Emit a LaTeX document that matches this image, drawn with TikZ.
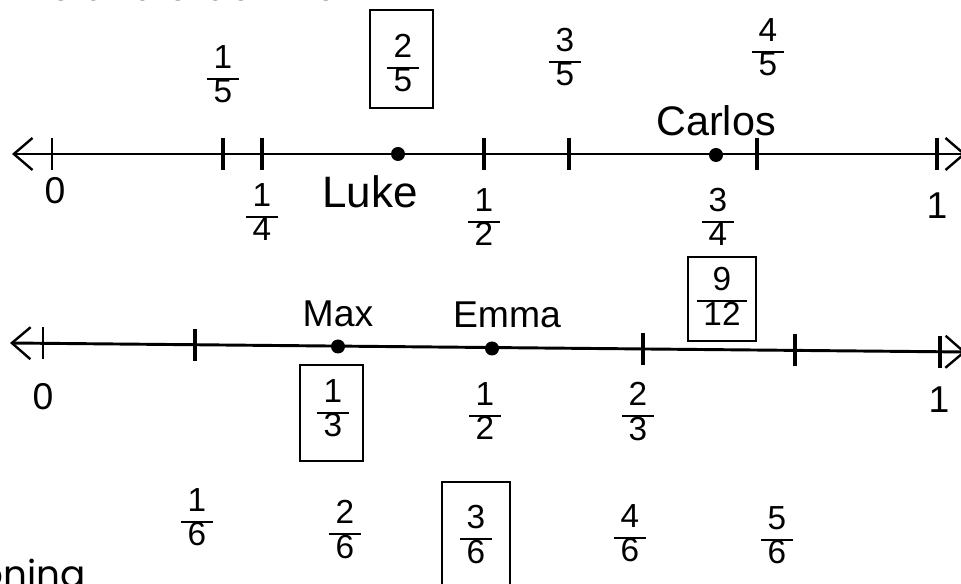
\documentclass[tikz,border=0pt]{standalone}
\usepackage{fontspec}
\setmainfont{Liberation Sans}
\newfontfamily\printfont{Poppins}
\usetikzlibrary{arrows.meta}
\newcommand\hfr[2]{{\setlength\arrayrulewidth{1.1pt}\renewcommand\arraystretch{0.85}\begin{tabular}{@{\hspace{5pt}}c@{\hspace{5pt}}}#1\\\hline #2\end{tabular}}}
\begin{document}
\begin{tikzpicture}[x=0.75pt,y=-0.75pt,
  barb/.tip={Straight Barb[length=14pt,width=24pt,line width=1.8pt]},
  axis/.style={line width=2.2pt, barb-barb},
  dotmark/.style={circle, fill=black, inner sep=0pt, minimum size=10.5pt},
  frac/.style={font=\fontsize{25}{28}\selectfont, inner sep=0pt},
  lab/.style={font=\fontsize{28}{32}\selectfont, inner sep=0pt},
  fbox/.style={draw, line width=1.6pt, inner sep=0pt},
  cut/.style={font=\printfont\fontsize{28}{32}\selectfont, inner sep=0pt}]
\useasboundingbox (0,0) rectangle (961,584);
\clip (0,0) rectangle (961,584);

% cut printed text
\node[cut, anchor=base west] (head) at (0,1) {Line and order the};
\node[cut, anchor=base east] (foot) at (86,588) {Reasoning};

% ---------- first number line ----------
\coordinate (A1) at (12,154);
\coordinate (B1) at (966,154);
\draw[axis] (A1) -- (B1);
\foreach \x/\n/\w in {52/t0/1.6pt,223/t15/3.4pt,262/t14/2.4pt,484/t12/2.4pt,569/t35/2.8pt,757/t45/2.4pt,937/t1/2.6pt}{
  \coordinate (\n) at (\x,154);
  \draw[line width=\w] ([yshift=12pt]\n) -- ([yshift=-12pt]\n);
}
\node[dotmark] (luke) at (398,154) {};
\node[dotmark] (carlos) at (716,155) {};

% labels above
\node[frac] (f15) at (223,79) {\hfr{1}{5}};
\node[fbox, minimum width=47pt, minimum height=73.5pt] (b25) at (401.5,59) {};
\node[frac] (f25) at (403,68) {\hfr{2}{5}};
\node[frac] (f35) at (565,62) {\hfr{3}{5}};
\node[frac] (f45) at (768,52) {\hfr{4}{5}};
\node[lab, font=\fontsize{31}{34}\selectfont] (ncarlos) at (716,121) {Carlos};

% labels below
\node[lab] (z1) at (55,191) {0};
\node[frac] (f14) at (262,217) {\hfr{1}{4}};
\node[lab, font=\fontsize{33}{36}\selectfont] (nluke) at (370,192) {Luke};
\node[frac] (f12) at (484,222) {\hfr{1}{2}};
\node[frac] (f34) at (718,222) {\hfr{3}{4}};
\node[lab] (o1) at (937,206) {1};

% ---------- second number line ----------
\coordinate (A2) at (10,343);
\coordinate (B2) at (966,352);
\draw[axis] (A2) -- (B2);
\foreach \x/\y/\n/\w in {43/343.3/s0/1.6pt,195/344.8/s16/2.8pt,643/349.0/s23/2.4pt,795/350.4/s56/2.6pt,940/351.8/s1/2.6pt}{
  \coordinate (\n) at (\x,\y);
  \draw[line width=\w] ([yshift=12pt]\n) -- ([yshift=-12pt]\n);
}
\node[dotmark] (max) at (338,346.5) {};
\node[dotmark] (emma) at (492,348.5) {};

% labels above
\node[lab] (nmax) at (338,314) {Max};
\node[lab] (nemma) at (507,315) {Emma};
\node[fbox, minimum width=51pt, minimum height=63pt] (b912) at (722,299) {};
\node[frac] (f912) at (722,301) {\hfr{9}{12}};

% labels below
\node[lab] (z2) at (43,397) {0};
\node[fbox, minimum width=47pt, minimum height=72pt] (b13) at (331.5,413) {};
\node[frac] (f13) at (333,413) {\hfr{1}{3}};
\node[frac] (f12b) at (485,416) {\hfr{1}{2}};
\node[frac] (f23) at (638,416) {\hfr{2}{3}};
\node[lab] (o2) at (939,400) {1};

% ---------- sixths row ----------
\node[frac] (f16) at (197,522) {\hfr{1}{6}};
\node[frac] (f26) at (345,534) {\hfr{2}{6}};
\node[fbox, minimum width=51pt, minimum height=89pt] (b36) at (476,541) {};
\node[frac] (f36) at (476,539) {\hfr{3}{6}};
\node[frac] (f46) at (630,538) {\hfr{4}{6}};
\node[frac] (f56) at (777,540) {\hfr{5}{6}};
\end{tikzpicture}
\end{document}
